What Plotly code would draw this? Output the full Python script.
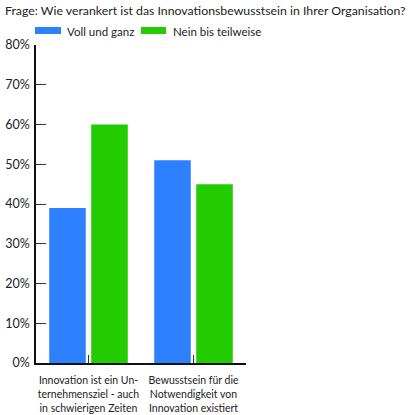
import plotly.graph_objects as go

categories = ["Innovation ist ein Un-<br>ternehmensziel - auch<br>in schwierigen Zeiten",
              "Bewusstsein für die<br>Notwendigkeit von<br>Innovation existiert"]
series_names = ["Voll und ganz", "Nein bis teilweise"]
voll_und_ganz = [39, 51]
nein_bis_teilweise = [60, 45]
y_tickvals = [0, 10, 20, 30, 40, 50, 60, 70, 80]
y_ticktext = ["0%", "10%", "20%", "30%", "40%", "50%", "60%", "70%", "80%"]
title_text = "Frage: Wie verankert ist das Innovationsbewusstsein in Ihrer Organisation?"

colors = ["#2D80FF", "#22CC00"]
FONT = "Lato"

fig = go.Figure()
for name, vals, col in zip(series_names, [voll_und_ganz, nein_bis_teilweise], colors):
    fig.add_trace(go.Bar(x=[0, 1], y=vals, name=name, marker=dict(color=col, line=dict(width=0)),
                         showlegend=False, hoverinfo="skip"))

# custom legend (swatches + labels)
leg = [(35, 61, 65), (141, 166, 171)]
for (x0, x1, tx), name, col in zip(leg, series_names, colors):
    fig.add_shape(type="rect", xref="paper", yref="paper",
                  x0=(x0 - 36) / 210, x1=(x1 - 36) / 210,
                  y0=(363 - 34) / 318, y1=(363 - 27) / 318,
                  fillcolor=col, line=dict(width=0), layer="above")
    fig.add_annotation(text=name, xref="paper", yref="paper", x=(tx - 36) / 210,
                       y=(363 - 31) / 318, xanchor="left", yanchor="middle", showarrow=False,
                       font=dict(family=FONT, size=11.5, color="#222"))

fig.update_layout(
    width=420, height=415,
    margin=dict(l=36, r=174, t=45, b=52),
    paper_bgcolor="white", plot_bgcolor="white",
    barmode="group", bargap=0.2, bargroupgap=0.13,
    font=dict(family=FONT, size=11, color="#222"),
    title=dict(text=title_text, x=5 / 420, xanchor="left", y=1 - 11 / 415, yanchor="middle",
               font=dict(family=FONT, size=12.3, color="#222")),
)
fig.update_xaxes(range=[-0.5, 1.5], tickvals=[0, 1], ticktext=categories, tickson="boundaries",
                 ticks="inside", ticklen=8, tickcolor="#333", tickwidth=1.2, automargin=False,
                 ticklabelstandoff=7,
                 showline=True, linecolor="#111", linewidth=1.5, showgrid=False, zeroline=False,
                 tickfont=dict(family=FONT, size=10.5, color="#222"))
fig.update_yaxes(range=[0, 80], tickvals=y_tickvals, ticktext=y_ticktext, automargin=False,
                 ticks="inside", ticklen=10, tickcolor="#333", tickwidth=1.2,
                 ticklabelstandoff=2,
                 showline=True, linecolor="#111", linewidth=1.5, showgrid=False, zeroline=False,
                 tickfont=dict(family=FONT, size=12.5, color="#222"))

fig.write_html("out.html", config={"displayModeBar": False},
               post_script="document.body.style.margin='0';document.body.style.overflow='hidden';")
